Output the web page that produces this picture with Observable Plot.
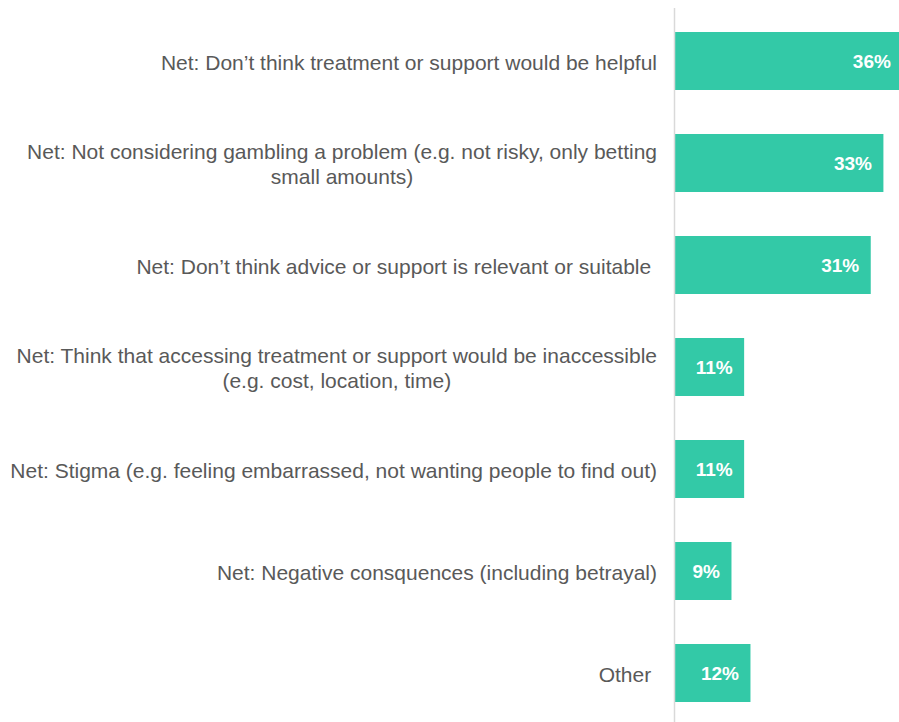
<!DOCTYPE html>
<html>
<head>
<meta charset="utf-8">
<script src="https://cdn.jsdelivr.net/npm/d3@7"></script>
<script src="https://cdn.jsdelivr.net/npm/@observablehq/plot@0.6"></script>
<style>
  html, body { margin: 0; padding: 0; background: #fff; overflow: hidden; }
  #chart svg { overflow: hidden; display: block; }
  #chart text, #chart tspan { white-space: pre; }
</style>
</head>
<body>
<div id="chart"></div>
<script>
const categories = [
  "Net: Don\u2019t think treatment or support would be helpful",
  "Net: Not considering gambling a problem (e.g. not risky, only betting\nsmall amounts)",
  "Net: Don\u2019t think advice or support is relevant or suitable ",
  "Net: Think that accessing treatment or support would be inaccessible\n(e.g. cost, location, time)",
  "Net: Stigma (e.g. feeling embarrassed, not wanting people to find out)",
  "Net: Negative consquences (including betrayal)",
  "Other "
];
const values = [36, 33, 31, 11, 11, 9, 12];
const valueLabels = ["36%", "33%", "31%", "11%", "11%", "9%", "12%"];

const data = categories.map((c, i) => ({category: c, value: values[i], label: valueLabels[i]}));

const chart = Plot.plot({
  width: 899,
  height: 722,
  marginTop: 8,
  marginBottom: 0,
  marginLeft: 0,
  marginRight: 0,
  style: {fontFamily: "'Liberation Sans', Arial, sans-serif", background: "#fff"},
  x: {domain: [0, 36], range: [674.5, 902.4], axis: null},
  y: {domain: categories, range: [19, 715.6], paddingInner: 0.43, paddingOuter: 0.1, axis: null},
  marks: [
    Plot.barX(data, {x: "value", y: "category", fill: "#33c9a7"}),
    Plot.ruleX([0], {stroke: "#d9d9d9", strokeWidth: 1.5, dx: -0.5}),
    Plot.text(data, {x: 0, y: "category", text: "category", textAnchor: "end", dx: -18,
      fill: "#595959", fontSize: 21, lineHeight: 1.2}),
    Plot.text(data, {x: "value", y: "category", text: "label", textAnchor: "end", dx: -12,
      fill: "white", fontSize: 19, fontWeight: "bold"})
  ]
});
document.getElementById("chart").appendChild(chart);

// center multi-line category labels on their longest line (right edge kept)
const groups = chart.querySelectorAll('g[aria-label="text"]');
if (groups.length) {
  groups[0].querySelectorAll("text").forEach(t => {
    const b = t.getBBox();
    const cx = b.x + b.width / 2;
    t.setAttribute("text-anchor", "middle");
    const spans = t.querySelectorAll("tspan");
    if (spans.length) spans.forEach(s => s.setAttribute("x", cx));
    else t.setAttribute("x", cx + (+t.getAttribute("x") || 0) - (+t.getAttribute("x") || 0));
  });
}
</script>
</body>
</html>
